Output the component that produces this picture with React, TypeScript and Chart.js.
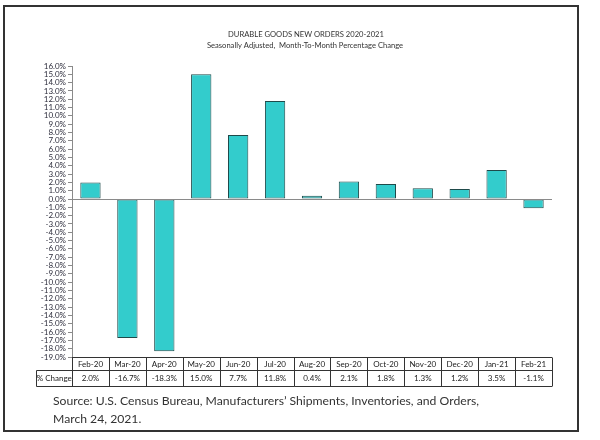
import React, { useEffect, useRef } from "react";
import { Chart, registerables } from "chart.js";

Chart.register(...registerables);

const categories = ["Feb-20", "Mar-20", "Apr-20", "May-20", "Jun-20", "Jul-20", "Aug-20", "Sep-20", "Oct-20", "Nov-20", "Dec-20", "Jan-21", "Feb-21"];
const changeValues = [2.0, -16.7, -18.3, 15.0, 7.7, 11.8, 0.4, 2.1, 1.8, 1.3, 1.2, 3.5, -1.1];
const seriesLabel = "% Change";
const titleLine = "DURABLE GOODS NEW ORDERS 2020-2021";
const subtitleLine = "Seasonally Adjusted,  Month-To-Month Percentage Change";
const sourceLines = ["Source: U.S. Census Bureau, Manufacturers\u2019 Shipments, Inventories, and Orders,", "March 24, 2021."];
const yMin = -19;
const yMax = 16;

const FONT = "Lato, 'Open Sans', sans-serif";

const tablePlugin = {
  id: "tablePlugin",
  afterDraw(chart: any) {
    const ctx = chart.ctx as CanvasRenderingContext2D;
    const area = chart.chartArea;
    const x = chart.scales.x;
    const y = chart.scales.y;
    ctx.save();
    // zero line
    const y0 = Math.round(y.getPixelForValue(0)) + 0.5;
    ctx.strokeStyle = "#8a8a8a";
    ctx.lineWidth = 1;
    ctx.beginPath();
    ctx.moveTo(area.left, y0);
    ctx.lineTo(area.right, y0);
    ctx.stroke();

    // title
    ctx.fillStyle = "#333";
    ctx.textAlign = "center";
    ctx.textBaseline = "middle";
    ctx.font = `7.6px ${FONT}`;
    ctx.fillText(titleLine, 306, 35);
    ctx.fillText(subtitleLine, 305, 46);

    // table
    const n = categories.length;
    const colW = (area.right - area.left) / n;
    const top = Math.round(area.bottom) + 0.5;
    const mid = top + 13;
    const bot = top + 29;
    const labelLeft = 36.5;
    ctx.strokeStyle = "#333";
    ctx.lineWidth = 1;
    ctx.beginPath();
    ctx.moveTo(area.left, top);
    ctx.lineTo(area.right, top);
    ctx.moveTo(labelLeft, mid);
    ctx.lineTo(area.right, mid);
    ctx.moveTo(labelLeft, bot);
    ctx.lineTo(area.right, bot);
    ctx.moveTo(labelLeft, mid);
    ctx.lineTo(labelLeft, bot);
    for (let i = 0; i <= n; i++) {
      const px = Math.round(x.getPixelForValue(i) - colW / 2) + 0.5;
      ctx.moveTo(px, top);
      ctx.lineTo(px, bot);
    }
    ctx.stroke();
    ctx.fillStyle = "#222";
    ctx.font = `8px ${FONT}`;
    ctx.fillText(seriesLabel, (labelLeft + area.left) / 2, (mid + bot) / 2);
    for (let i = 0; i < n; i++) {
      const cx = x.getPixelForValue(i);
      ctx.fillText(categories[i], cx, (top + mid) / 2);
      ctx.fillText(changeValues[i].toFixed(1) + "%", cx, (mid + bot) / 2);
    }
    ctx.restore();
  },
};

export default function App() {
  const ref = useRef<HTMLCanvasElement>(null);
  useEffect(() => {
    document.body.style.margin = "0";
    const chart = new Chart(ref.current as HTMLCanvasElement, {
      type: "bar",
      data: {
        labels: categories,
        datasets: [
          {
            label: seriesLabel,
            data: changeValues,
            backgroundColor: "#33CCCC",
            borderColor: "#1f4a4a",
            borderWidth: 1,
            borderSkipped: false,
            barPercentage: 0.55,
            categoryPercentage: 1,
          },
        ],
      },
      options: {
        animation: false,
        responsive: false,
        devicePixelRatio: 1,
        layout: { padding: { top: 66, left: 0, right: 48, bottom: 83 } },
        plugins: { legend: { display: false }, title: { display: false }, tooltip: { enabled: false } },
        scales: {
          x: { type: "category", display: false },
          y: {
            min: yMin,
            max: yMax,
            afterFit(scale: any) {
              scale.width = 72;
            },
            ticks: {
              stepSize: 1,
              autoSkip: false,
              color: "#2b2b3a",
              padding: 2,
              font: { family: FONT, size: 8 },
              callback: (v: any) => Number(v).toFixed(1) + "%",
            },
            grid: { drawOnChartArea: false, drawTicks: true, tickLength: 4, color: "#8a8a8a" },
            border: { display: true, color: "#8a8a8a" },
          },
        },
      },
      plugins: [tablePlugin],
    });
    return () => chart.destroy();
  }, []);
  return (
    <div style={{ position: "relative", width: 600, height: 440, background: "#fff" }}>
      <canvas ref={ref} width={600} height={440} style={{ position: "absolute", left: 0, top: 0 }} />
      <div
        style={{
          position: "absolute",
          left: 3,
          top: 5,
          width: 572,
          height: 423,
          border: "2px solid #333",
          pointerEvents: "none",
        }}
      />
      <div
        style={{
          position: "absolute",
          left: 53,
          top: 392,
          fontFamily: FONT,
          fontSize: 12.2,
          lineHeight: "18px",
          color: "#333",
          whiteSpace: "nowrap",
        }}
      >
        {sourceLines.map((s, i) => (
          <div key={i}>{s}</div>
        ))}
      </div>
    </div>
  );
}
